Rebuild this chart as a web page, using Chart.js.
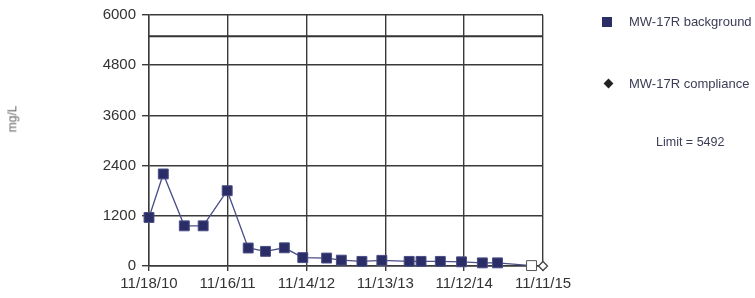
<!DOCTYPE html>
<html lang="en">
<head>
    <meta charset="UTF-8">
    <title>MW-17R</title>
    <script src="https://cdn.jsdelivr.net/npm/chart.js"></script>
    <style>
        body {
            margin: 0;
            background: #fff;
            font-family: "Liberation Sans", Arial, sans-serif;
        }
        #wrap {
            position: relative;
            width: 755px;
            height: 298px;
        }
        .legend {
            position: absolute;
            color: #3b3d55;
            font-size: 13px;
            white-space: nowrap;
        }
        .mark {
            position: absolute;
            background: #2b2e66;
        }
        #ytitle {
            position: absolute;
            left: -1px;
            top: 112px;
            font-size: 12px;
            font-weight: normal;
            color: #666;
            transform: rotate(-90deg);
        }
    </style>
</head>
<body>
<div id="wrap">
    <canvas id="chart" width="755" height="298"></canvas>
    <div id="ytitle">mg/L</div>
    <div class="mark" style="left:602px;top:17px;width:10px;height:10px;"></div>
    <div class="legend" style="left:629px;top:14px;">MW-17R background</div>
    <div class="mark" style="left:605px;top:80px;width:7px;height:7px;transform:rotate(45deg);background:#222;"></div>
    <div class="legend" style="left:629px;top:76px;">MW-17R compliance</div>
    <div class="legend" style="left:656px;top:135px;font-size:12.5px;">Limit = 5492</div>
</div>

<script>
    // sample dates and results (mg/L)
    const backgroundDates = ['2010-11-18', '2011-01-23', '2011-04-30', '2011-07-26', '2011-11-14',
        '2012-02-19', '2012-05-09', '2012-08-04', '2012-10-28', '2013-02-15', '2013-04-24',
        '2013-07-28', '2013-10-28', '2014-03-03', '2014-04-27', '2014-07-25', '2014-10-31',
        '2015-02-04', '2015-04-15', '2015-09-19'];
    const backgroundValues = [1160, 2200, 960, 960, 1800, 430, 350, 435, 200, 190, 140,
        110, 135, 110, 110, 110, 100, 75, 75, 10];
    // last background result is a non-detect (open square)
    const nonDetect = [false, false, false, false, false, false, false, false, false, false, false,
        false, false, false, false, false, false, false, false, true];

    const complianceDates = ['2015-11-11'];
    const complianceValues = [0];

    const limitValue = 5492;

    const tickDates = ['2010-11-18', '2011-11-16', '2012-11-14', '2013-11-13', '2014-11-12', '2015-11-11'];
    const tickLabels = ['11/18/10', '11/16/11', '11/14/12', '11/13/13', '11/12/14', '11/11/15'];
    const yTicks = [0, 1200, 2400, 3600, 4800, 6000];

    const start = Date.parse(tickDates[0]);
    const dayOf = d => (Date.parse(d) - start) / 86400000;
    const tickDays = tickDates.map(dayOf);
    const lastDay = tickDays[tickDays.length - 1];

    const navy = '#2b2e66';
    const gridColor = '#3a3a3a';

    new Chart(document.getElementById('chart'), {
        type: 'line',
        data: {
            datasets: [
                {
                    label: 'Limit',
                    data: [{ x: 0, y: limitValue }, { x: lastDay, y: limitValue }],
                    borderColor: '#333',
                    borderWidth: 2,
                    pointRadius: 0
                },
                {
                    label: 'MW-17R background',
                    data: backgroundDates.map((d, i) => ({ x: dayOf(d), y: backgroundValues[i] })),
                    clip: false,
                    borderColor: '#4a4e86',
                    borderWidth: 1.3,
                    pointStyle: 'rect',
                    pointRadius: 7,
                    pointBackgroundColor: nonDetect.map(n => n ? '#fff' : navy),
                    pointBorderColor: nonDetect.map(n => n ? '#555' : '#4a4e86'),
                    pointBorderWidth: 1
                },
                {
                    label: 'MW-17R compliance',
                    data: complianceDates.map((d, i) => ({ x: dayOf(d), y: complianceValues[i] })),
                    clip: false,
                    showLine: false,
                    pointStyle: 'rectRot',
                    pointRadius: 4.5,
                    pointBackgroundColor: '#fff',
                    pointBorderColor: '#444',
                    pointBorderWidth: 1.3
                }
            ]
        },
        options: {
            responsive: false,
            animation: false,
            layout: { padding: { left: 0, right: 212, top: 13, bottom: 0 } },
            plugins: {
                legend: { display: false },
                tooltip: { enabled: false }
            },
            scales: {
                x: {
                    type: 'linear',
                    min: 0,
                    max: lastDay,
                    afterBuildTicks: s => { s.ticks = tickDays.map(v => ({ value: v })); },
                    afterFit: s => { s.height = 32; },
                    grid: { color: gridColor, lineWidth: 1.4, tickLength: 5 },
                    border: { color: gridColor, width: 1.4 },
                    ticks: {
                        padding: 4,
                        maxRotation: 0,
                        autoSkip: false,
                        color: '#333',
                        font: { size: 15, family: '"Liberation Sans", Arial, sans-serif' },
                        callback: (v, i) => tickLabels[i]
                    }
                },
                y: {
                    min: 0,
                    max: 6000,
                    afterBuildTicks: s => { s.ticks = yTicks.map(v => ({ value: v })); },
                    afterFit: s => { s.width = 149; },
                    grid: { color: gridColor, lineWidth: 1.4, tickLength: 7 },
                    border: { color: gridColor, width: 1.4 },
                    ticks: {
                        padding: 6,
                        color: '#333',
                        font: { size: 15, family: '"Liberation Sans", Arial, sans-serif' },
                        callback: v => String(v)
                    }
                }
            }
        }
    });
</script>
</body>
</html>
